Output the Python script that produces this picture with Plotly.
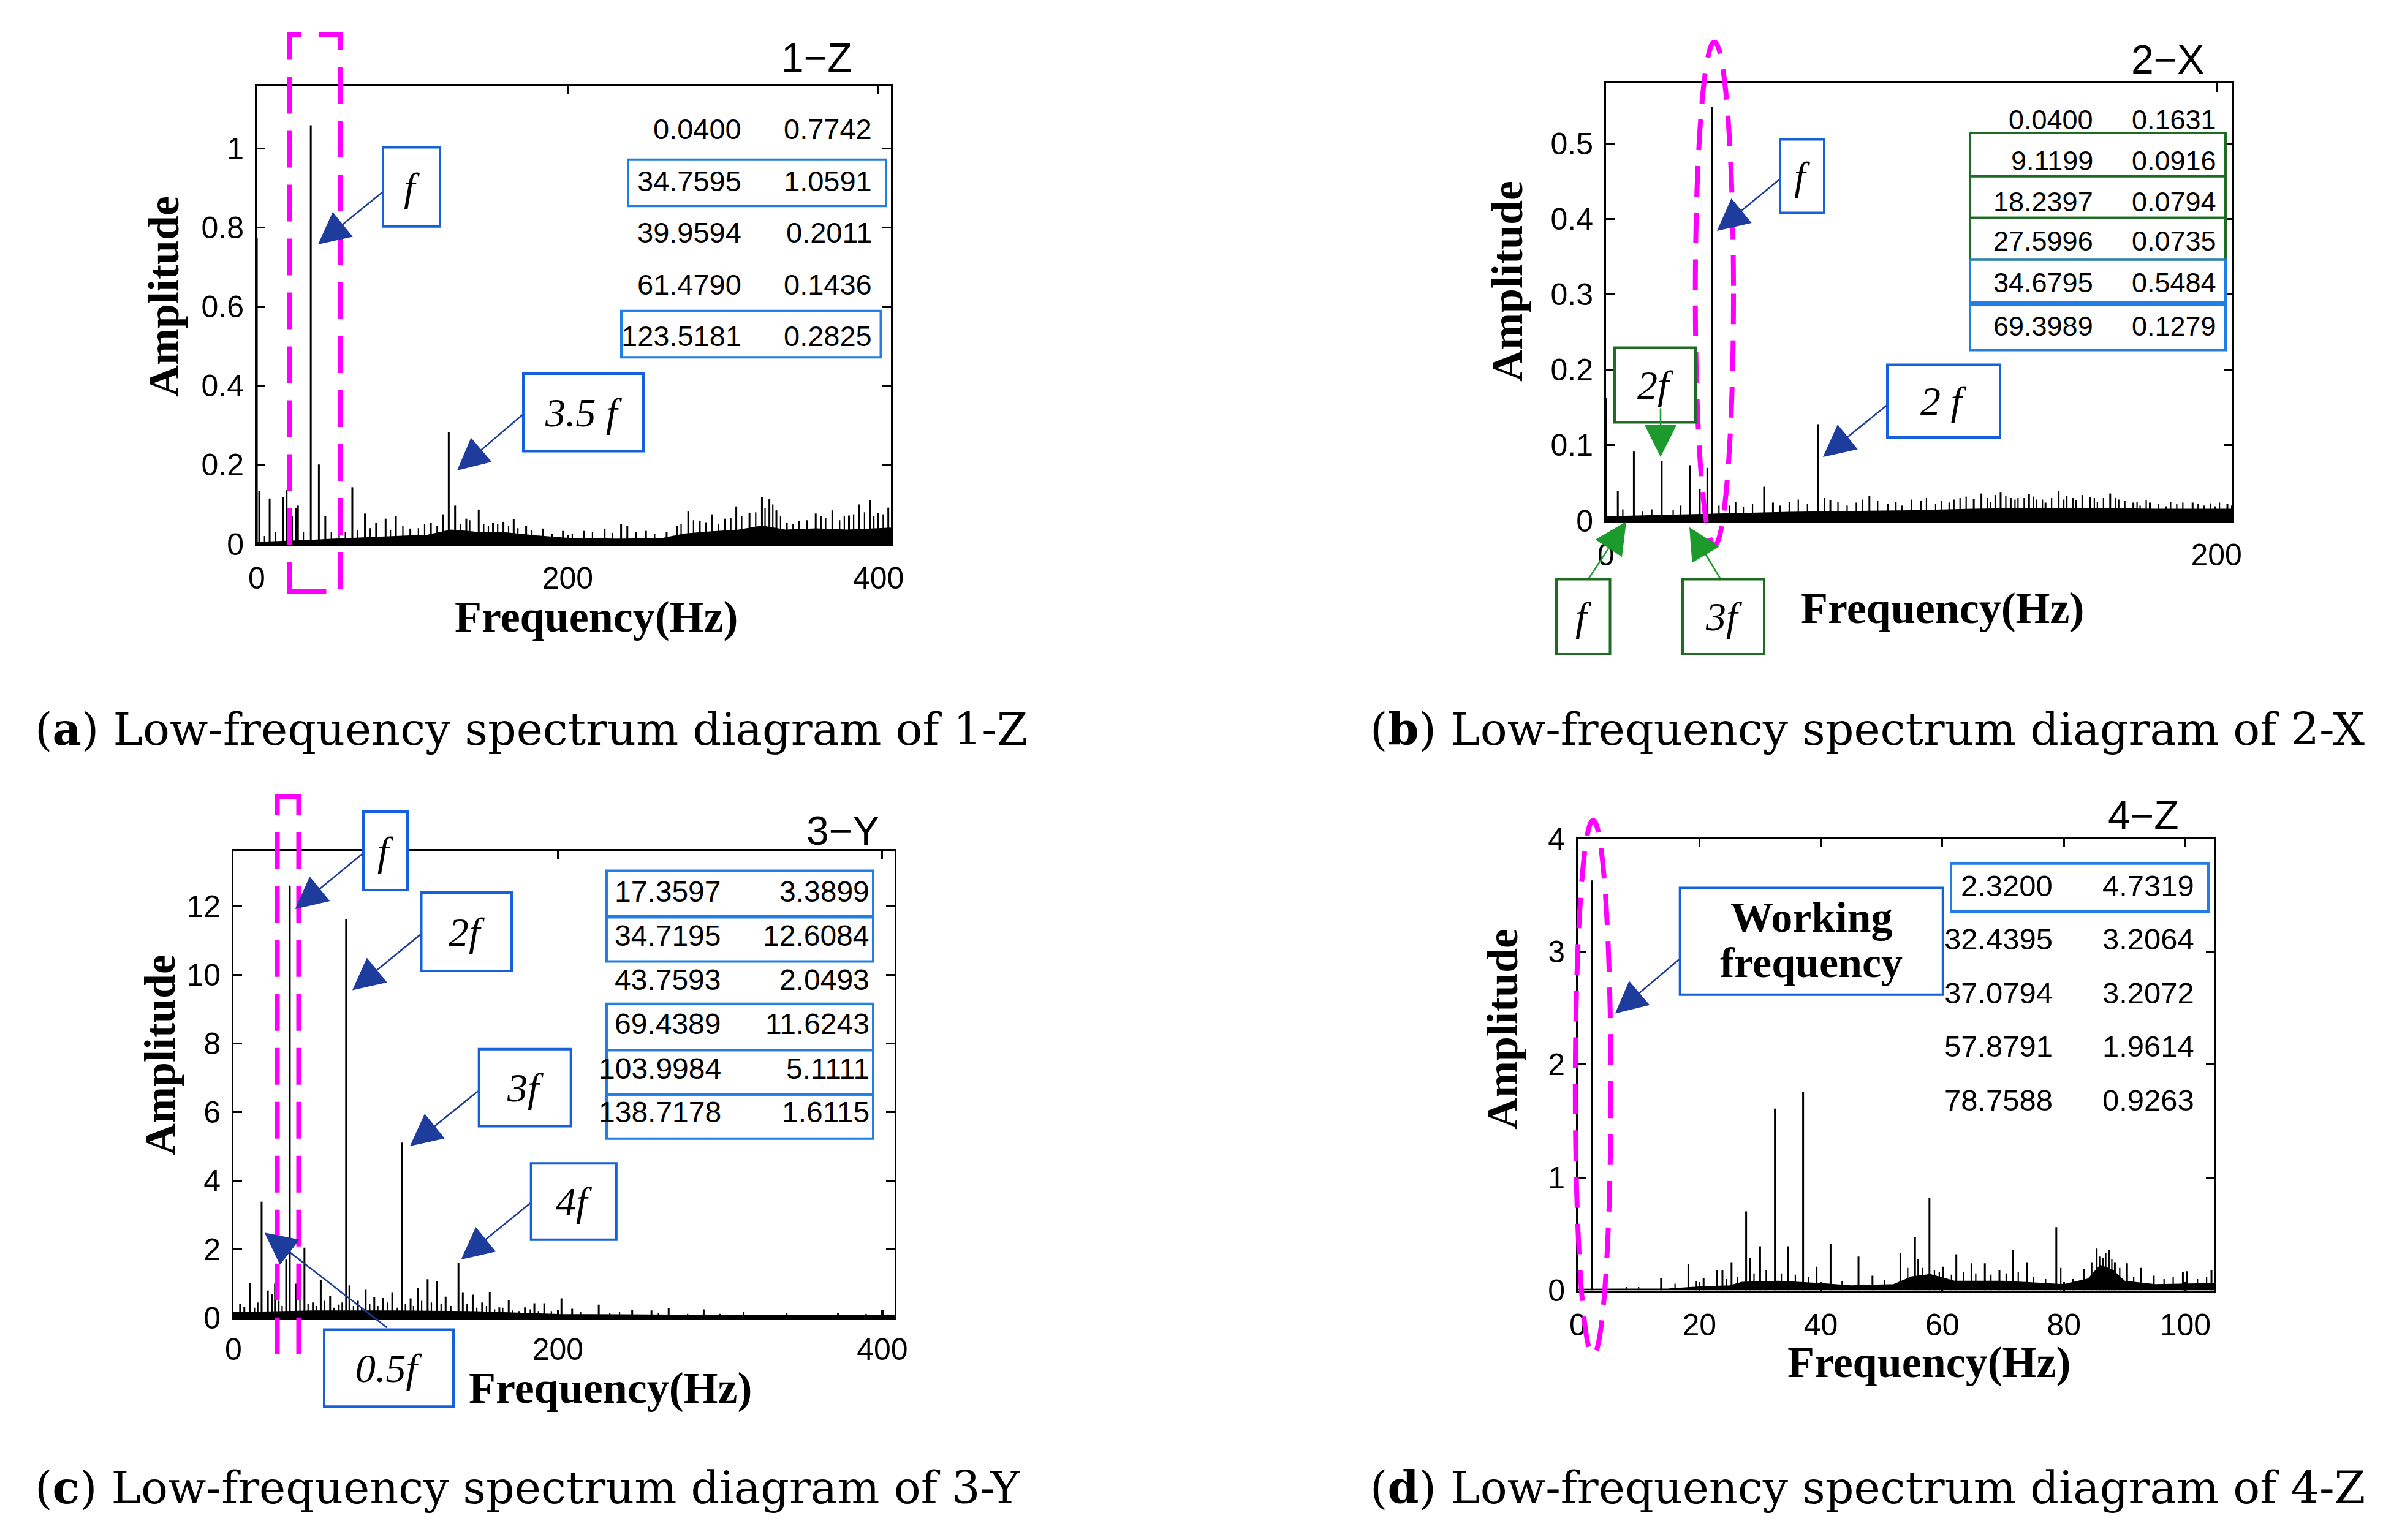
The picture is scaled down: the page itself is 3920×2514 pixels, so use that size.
import plotly.graph_objects as go

W, H = 3920, 2514
PAGE_OFFSET = 8  # default body margin of the html page

# ---------------- data ----------------
# (a) 1-Z : main spectral lines
a_peak_f = [0.04, 1.6, 8.3, 17.0, 19.2, 22.7, 25.2, 26.5, 34.7595, 39.9594, 44.1, 61.479,
            69.6, 76.8, 82.9, 89.5, 98.8, 112, 120, 123.5181, 127.6, 134.8, 142.8, 152,
            158.7, 165.3, 173.3, 184, 197, 210.5, 223.8, 234.4, 238.4, 250.4, 263.7, 270.4,
            277.6, 285, 293, 301, 308.5, 317, 325, 329.8, 334.3, 341, 349, 359.6, 370.3,
            381, 387.6, 394.8, 399.6, 406.3]
a_peak_amp = [0.7742, 0.134, 0.115, 0.118, 0.136, 0.07, 0.09, 0.097, 1.0591, 0.2011, 0.07, 0.1436,
              0.077, 0.054, 0.064, 0.07, 0.039, 0.054, 0.075, 0.2825, 0.097, 0.064, 0.087, 0.054,
              0.056, 0.062, 0.046, 0.039, 0.033, 0.033, 0.039, 0.051, 0.046, 0.033, 0.031, 0.046,
              0.082, 0.059, 0.075, 0.064, 0.095, 0.079, 0.118, 0.113, 0.085, 0.054, 0.059, 0.077,
              0.085, 0.072, 0.1, 0.111, 0.079, 0.092]
# (a) small noise lines
a_minor_f = [5, 12, 30, 48, 53, 57, 65, 73, 86, 94, 104, 108, 116, 131, 137, 146, 149, 155, 162,
             168, 177, 190, 203, 216, 229, 244, 256, 273, 281, 289, 297, 305, 312, 321, 327, 332,
             337, 345, 354, 363, 366, 375, 378, 384, 391, 397, 403]
a_minor_amp = [0.02, 0.03, 0.03, 0.03, 0.035, 0.03, 0.035, 0.04, 0.035, 0.045, 0.04, 0.05, 0.045,
               0.05, 0.06, 0.05, 0.045, 0.05, 0.045, 0.04, 0.035, 0.025, 0.025, 0.03, 0.028, 0.03,
               0.025, 0.05, 0.06, 0.055, 0.05, 0.065, 0.07, 0.08, 0.09, 0.1, 0.07, 0.05, 0.06, 0.07,
               0.065, 0.06, 0.07, 0.075, 0.08, 0.07, 0.075]
a_noise_f = [0, 10, 30, 50, 70, 90, 110, 125, 140, 160, 180, 200, 230, 260, 275, 290, 310, 325, 340, 360, 380, 408]
a_noise_amp = [0.004, 0.005, 0.008, 0.012, 0.015, 0.018, 0.022, 0.035, 0.03, 0.028, 0.02, 0.014,
               0.012, 0.013, 0.025, 0.03, 0.035, 0.045, 0.035, 0.038, 0.035, 0.04]
a_tab_freq = ["0.0400", "34.7595", "39.9594", "61.4790", "123.5181"]
a_tab_amp = ["0.7742", "1.0591", "0.2011", "0.1436", "0.2825"]

# (b) 2-X
b_peak_f = [0.04, 3.86, 9.1199, 18.2397, 27.5996, 30.7, 33.2, 34.6795, 51.8, 54.7,
            60.1, 69.3989, 73.5, 86.3, 92.4, 103.1, 112.5, 120.5, 123.0, 129.3, 132.6,
            138.6, 144.0, 148.3, 154.0, 158.7, 165.2, 172.8, 178.2, 183.5, 192.2, 199.6, 203.6]
b_peak_amp = [0.1631, 0.039, 0.0916, 0.0794, 0.0735, 0.042, 0.07, 0.5484, 0.045, 0.024,
              0.025, 0.1279, 0.027, 0.033, 0.022, 0.026, 0.024, 0.029, 0.036, 0.038, 0.03,
              0.035, 0.024, 0.039, 0.027, 0.031, 0.036, 0.024, 0.024, 0.019, 0.024, 0.019, 0.022]
b_minor_f = [5.5, 12, 15, 22, 24.5, 37, 40.5, 42.5, 45, 48, 57, 63, 66, 71.5, 76, 79, 82, 84, 89,
             95, 97, 100, 105, 108, 110, 114, 116, 118, 125, 126, 127.5, 131, 134, 135, 137, 140,
             141, 143, 146, 150, 151, 153, 156, 160, 161, 163, 167, 168, 170, 174, 175, 177, 181,
             185, 187, 189, 194, 196, 198, 201, 205]
b_minor_amp = [0.015, 0.012, 0.015, 0.014, 0.02, 0.02, 0.02, 0.025, 0.018, 0.022, 0.02, 0.028, 0.022,
               0.03, 0.025, 0.02, 0.024, 0.028, 0.026, 0.025, 0.02, 0.028, 0.03, 0.022, 0.026, 0.028,
               0.03, 0.032, 0.03, 0.025, 0.034, 0.033, 0.028, 0.03, 0.03, 0.032, 0.028, 0.028, 0.03,
               0.028, 0.033, 0.03, 0.034, 0.03, 0.025, 0.03, 0.03, 0.028, 0.026, 0.025, 0.02, 0.027,
               0.022, 0.025, 0.022, 0.024, 0.022, 0.02, 0.023, 0.024, 0.02]
b_noise_f = [0, 20, 40, 60, 80, 100, 120, 140, 160, 180, 205.2]
b_noise_amp = [0.005, 0.007, 0.009, 0.011, 0.012, 0.013, 0.015, 0.016, 0.016, 0.015, 0.015]
b_tab_freq = ["0.0400", "9.1199", "18.2397", "27.5996", "34.6795", "69.3989"]
b_tab_amp = ["0.1631", "0.0916", "0.0794", "0.0735", "0.5484", "0.1279"]

# (c) 3-Y
c_peak_f = [4.1, 6.7, 10.1, 17.3597, 21.2, 23.8, 25.6, 32.5, 34.7195, 38.5, 43.7593, 49.0, 53.8,
            59.6, 64.9, 69.4389, 71.5, 76.7, 81.5, 86.8, 92.1, 97.9, 103.9984, 109.2, 113.7,
            119.7, 125.5, 130.8, 138.7178, 141.4, 147.5, 153.3, 158.0, 163.9, 169.7, 179.7,
            185.5, 191.6, 202.2, 208.8, 225.2, 245.8, 257.7, 268.3, 289.9, 314.5, 341.0, 372.7, 400.4]
c_peak_amp = [0.41, 0.33, 1.01, 3.3899, 0.8, 0.69, 1.0, 1.7, 12.6084, 1.0, 2.0493, 0.45, 1.1,
              0.64, 0.39, 11.6243, 0.95, 0.5, 0.82, 0.6, 0.58, 0.75, 5.1111, 0.57, 0.88,
              1.13, 1.07, 0.62, 1.6115, 0.75, 0.68, 0.45, 0.76, 0.31, 0.51, 0.31,
              0.43, 0.43, 0.57, 0.27, 0.39, 0.24, 0.22, 0.28, 0.25, 0.18, 0.15, 0.15, 0.24]
c_minor_f = [13, 15, 28, 30, 41, 46, 51, 56, 62, 67, 74, 79, 84, 89, 95, 101, 106, 111, 116, 122,
             128, 134, 144, 150, 156, 161, 166, 172, 176, 183, 188, 196, 214, 232, 238, 262, 280, 300, 330, 360, 390]
c_minor_amp = [0.3, 0.45, 0.5, 0.35, 0.6, 0.4, 0.35, 0.5, 0.3, 0.45, 0.35, 0.3, 0.4, 0.35, 0.45, 0.3,
               0.4, 0.35, 0.5, 0.45, 0.4, 0.35, 0.4, 0.3, 0.35, 0.25, 0.3, 0.22, 0.2, 0.25, 0.2, 0.2,
               0.18, 0.15, 0.18, 0.14, 0.12, 0.12, 0.1, 0.1, 0.12]
c_noise_f = [0, 50, 100, 150, 200, 250, 300, 350, 407.6]
c_noise_amp = [0.15, 0.2, 0.2, 0.18, 0.1, 0.08, 0.07, 0.07, 0.07]
c_tab_freq = ["17.3597", "34.7195", "43.7593", "69.4389", "103.9984", "138.7178"]
c_tab_amp = ["3.3899", "12.6084", "2.0493", "11.6243", "5.1111", "1.6115"]

# (d) 4-Z
d_peak_f = [2.32, 4.7, 13.7, 18.2, 20.7, 22.9, 23.8, 25.3, 27.7, 28.3, 30.0, 32.4395, 34.6,
            37.0794, 39.3, 41.6, 46.2, 48.5, 53.1, 55.5, 57.8791, 60.1, 62.3, 64.8, 67.0, 69.4,
            71.6, 73.9, 78.7588, 83.3, 85.4, 86.4, 87.4, 88.4, 90.4, 92.7, 94.8, 99.6, 100.3, 104.3]
d_peak_amp = [3.63, 0.08, 0.11, 0.23, 0.11, 0.18, 0.18, 0.25, 0.70, 0.29, 0.39, 1.61, 0.39,
              1.76, 0.21, 0.41, 0.30, 0.13, 0.33, 0.47, 0.82, 0.21, 0.32, 0.24, 0.24, 0.18,
              0.36, 0.25, 0.56, 0.19, 0.37, 0.29, 0.36, 0.25, 0.24, 0.20, 0.13, 0.16, 0.17, 0.18]
d_minor_f = [8, 10, 16, 19.5, 24.5, 26.3, 29, 31, 33.5, 35.8, 38, 43.5, 50.5, 54.3, 56, 56.7, 58.7,
             59.5, 61.5, 63.5, 65.5, 68, 70.5, 72.5, 75, 77, 79.5, 81.5, 84.6, 85.9, 86.9, 87.9,
             89.2, 91.5, 96.5, 98, 102, 103.5]
d_minor_amp = [0.03, 0.03, 0.06, 0.08, 0.1, 0.12, 0.15, 0.18, 0.15, 0.14, 0.12, 0.08, 0.09, 0.2, 0.28,
               0.2, 0.18, 0.16, 0.14, 0.16, 0.15, 0.14, 0.15, 0.16, 0.12, 0.1, 0.2, 0.1, 0.25, 0.3,
               0.33, 0.28, 0.2, 0.12, 0.1, 0.12, 0.1, 0.12]
d_noise_f = [0, 15, 20, 25, 27, 33, 40, 45, 52, 55, 58, 62, 70, 76, 80, 84, 86, 88, 90, 95, 104.8]
d_noise_amp = [0.01, 0.012, 0.03, 0.04, 0.07, 0.08, 0.06, 0.04, 0.05, 0.12, 0.14, 0.08, 0.08,
               0.06, 0.05, 0.1, 0.22, 0.18, 0.08, 0.05, 0.06]
d_tab_freq = ["2.3200", "32.4395", "37.0794", "57.8791", "78.7588"]
d_tab_amp = ["4.7319", "3.2064", "3.2072", "1.9614", "0.9263"]

panel_titles = ["1\u2212Z", "2\u2212X", "3\u2212Y", "4\u2212Z"]
captions = ["(<b>a</b>) Low-frequency spectrum diagram of 1-Z",
            "(<b>b</b>) Low-frequency spectrum diagram of 2-X",
            "(<b>c</b>) Low-frequency spectrum diagram of 3-Y",
            "(<b>d</b>) Low-frequency spectrum diagram of 4-Z"]

for fl, al in [(a_peak_f, a_peak_amp), (b_peak_f, b_peak_amp), (c_peak_f, c_peak_amp), (d_peak_f, d_peak_amp),
               (a_minor_f, a_minor_amp), (b_minor_f, b_minor_amp), (c_minor_f, c_minor_amp), (d_minor_f, d_minor_amp)]:
    assert len(fl) == len(al)

# ---------------- helpers ----------------
def px(x):
    return (x - PAGE_OFFSET) / W

def py(y):
    return 1 - (y - PAGE_OFFSET) / H

SANS = "Liberation Sans, Arial, sans-serif"
SERIF = "Liberation Serif, Times New Roman, serif"
CAPF = "DejaVu Serif, Liberation Serif, serif"
BLUE_BOX = "#1560dc"
TAB_BLUE = "#1f7fe6"
GREEN = "#1e6b23"
GREEN_ARROW = "#1c9a2c"
ARROW_BLUE = "#1d3c9c"
MAGENTA = "#ff00ff"

fig = go.Figure()

panels = [
    dict(L=419, R=1454, T=139.5, B=888, xmax=408, ymax=1.16, xt=[0, 200, 400], yt=[0, 0.2, 0.4, 0.6, 0.8, 1],
         pf=a_peak_f, pa=a_peak_amp, mf=a_minor_f, ma=a_minor_amp, nf=a_noise_f, na=a_noise_amp, so=10),
    dict(L=2621, R=3643, T=135.5, B=850, xmax=205.2, ymax=0.58, xt=[0, 200], yt=[0, 0.1, 0.2, 0.3, 0.4, 0.5],
         pf=b_peak_f, pa=b_peak_amp, mf=b_minor_f, ma=b_minor_amp, nf=b_noise_f, na=b_noise_amp, so=10),
    dict(L=381, R=1460, T=1389, B=2151.5, xmax=407.6, ymax=13.62, xt=[0, 200, 400], yt=[0, 2, 4, 6, 8, 10, 12],
         pf=c_peak_f, pa=c_peak_amp, mf=c_minor_f, ma=c_minor_amp, nf=c_noise_f, na=c_noise_amp, so=5),
    dict(L=2575, R=3614, T=1369, B=2106.5, xmax=104.8, ymax=4, xt=[0, 20, 40, 60, 80, 100], yt=[0, 1, 2, 3, 4],
         pf=d_peak_f, pa=d_peak_amp, mf=d_minor_f, ma=d_minor_amp, nf=d_noise_f, na=d_noise_amp, so=10),
]

layout_axes = {}
for i, p in enumerate(panels):
    n = "" if i == 0 else str(i + 1)
    xa, ya = "x" + n, "y" + n
    fig.add_trace(go.Scatter(x=p["nf"], y=p["na"], mode="lines", fill="tozeroy",
                             fillcolor="black", line=dict(color="black", width=2),
                             xaxis=xa, yaxis=ya, hoverinfo="skip"))
    for fl, al, wdt in [(p["mf"], p["ma"], 2.2), (p["pf"], p["pa"], 3)]:
        xs, ys = [], []
        for f, a in zip(fl, al):
            xs += [f, f, None]
            ys += [0, a, None]
        fig.add_trace(go.Scatter(x=xs, y=ys, mode="lines", line=dict(color="black", width=wdt),
                                 xaxis=xa, yaxis=ya, hoverinfo="skip"))
    common = dict(showline=True, linecolor="black", linewidth=3, mirror="allticks",
                  ticks="inside", ticklen=14, tickwidth=3, tickcolor="black",
                  showgrid=False, zeroline=False, automargin=False,
                  tickfont=dict(family=SANS, size=50, color="black"))
    layout_axes["xaxis" + n] = dict(common, domain=[px(p["L"]), px(p["R"])], range=[0, p["xmax"]],
                                    tickvals=p["xt"], anchor=ya, ticklabelstandoff=p["so"])
    layout_axes["yaxis" + n] = dict(common, domain=[py(p["B"]), py(p["T"])], range=[0, p["ymax"]],
                                    tickvals=p["yt"], anchor=xa, ticklabelstandoff=8)

fig.update_layout(**layout_axes)

ann = []
shapes = []

def text(x, y, s, size, family=SANS, xanchor="center", color="black", angle=0):
    ann.append(dict(x=px(x), y=py(y), xref="paper", yref="paper", text=s, showarrow=False,
                    xanchor=xanchor, yanchor="middle", textangle=angle,
                    font=dict(family=family, size=size, color=color)))

def rect(x0, y0, x1, y1, color, width=4, dash=None, fill=None):
    line = dict(color=color, width=width)
    if dash:
        line["dash"] = dash
    shapes.append(dict(type="rect", xref="paper", yref="paper", x0=px(x0), x1=px(x1),
                       y0=py(y1), y1=py(y0), line=line, fillcolor=fill or "rgba(0,0,0,0)"))

def ellipse(x0, y0, x1, y1):
    shapes.append(dict(type="circle", xref="paper", yref="paper", x0=px(x0), x1=px(x1),
                       y0=py(y1), y1=py(y0), line=dict(color=MAGENTA, width=8, dash="50px,26px")))

def vline(x, y0, y1):
    shapes.append(dict(type="line", xref="paper", yref="paper", x0=px(x), x1=px(x),
                       y0=py(y1), y1=py(y0), line=dict(color=MAGENTA, width=8, dash="60px,28px")))

def arrow(tail, tip, color=ARROW_BLUE):
    ann.append(dict(x=px(tip[0]), y=py(tip[1]), xref="paper", yref="paper", text="",
                    showarrow=True, ax=tail[0] - tip[0], ay=tail[1] - tip[1],
                    arrowhead=2, arrowsize=4, arrowwidth=2.6, arrowcolor=color, standoff=0))

def label_box(x0, y0, x1, y1, s, color=BLUE_BOX, size=66):
    rect(x0, y0, x1, y1, color, width=4, fill="white")
    text((x0 + x1) / 2, (y0 + y1) / 2, "<i>" + s + "</i>", size, family=SERIF)

# ----- common texts -----
amp_pos = [(267, 484), (2460, 459), (261, 1722), (2452, 1680)]
freq_pos = [(973, 1007), (3170, 993), (996, 2266), (3148, 2224)]
title_pos = [(1333, 94), (3537, 97), (1375, 1356), (3498, 1331)]
cap_pos = [(55, 1190), (2234, 1190), (55, 2428), (2234, 2428)]
for i in range(4):
    text(*amp_pos[i], "<b>Amplitude</b>", 72, family=SERIF, angle=-90)
    text(*freq_pos[i], "<b>Frequency(Hz)</b>", 72, family=SERIF)
    text(*title_pos[i], panel_titles[i], 66)
    text(cap_pos[i][0], cap_pos[i][1], captions[i], 73, family=CAPF, xanchor="left")

# ----- (a) -----
rect(472.5, 57, 556, 965.4, MAGENTA, width=8, dash="60px,28px")
a_rows = [210.3, 295.8, 379.9, 464.0, 548.2]
rect(1025, 260.8, 1446, 336.2, TAB_BLUE)
rect(1014, 507.8, 1437.5, 583.2, TAB_BLUE)
for r, fs, am in zip(a_rows, a_tab_freq, a_tab_amp):
    text(1212, r, fs, 47, xanchor="right")
    text(1425, r, am, 47, xanchor="right")
label_box(625, 240.6, 718, 369.8, "f")
arrow((625, 313), (519, 399))
label_box(854, 610, 1050, 736.6, "3.5 f")
arrow((854, 676), (746, 768))

# ----- (b) -----
ellipse(2766.7, 68.8, 2829, 890.4)
b_rows = [195.7, 262.7, 329.7, 393.2, 461.6, 532.1]
rect(3215, 216.9, 3632, 287.4, GREEN)
rect(3215, 287.4, 3632, 355.8, GREEN)
rect(3215, 355.8, 3632, 423.5, GREEN)
rect(3215, 423.5, 3632, 493.3, TAB_BLUE)
rect(3215, 496.9, 3632, 571.6, TAB_BLUE)
for r, fs, am in zip(b_rows, b_tab_freq, b_tab_amp):
    text(3418, r, fs, 45, xanchor="right")
    text(3619, r, am, 45, xanchor="right")
label_box(2905, 227.5, 2977, 347.4, "f")
arrow((2905, 292), (2802, 377))
label_box(3080, 595.6, 3264, 714, "2 f")
arrow((3080, 661), (2975, 746))
label_box(2635, 567.4, 2767, 689.4, "2f", color=GREEN)
arrow((2710, 665), (2710, 746), color=GREEN_ARROW)
label_box(2540, 945.4, 2627.5, 1068, "f", color=GREEN)
arrow((2592, 945.4), (2654, 851.6), color=GREEN_ARROW)
label_box(2746, 945.4, 2879, 1068, "3f", color=GREEN)
arrow((2808, 945.4), (2757, 860.8), color=GREEN_ARROW)

# ----- (c) -----
vline(452.5, 1298.3, 2210.8)
vline(487.5, 1298.3, 2210.8)
shapes.append(dict(type="line", xref="paper", yref="paper", x0=px(449), x1=px(491),
                   y0=py(1300), y1=py(1300), line=dict(color=MAGENTA, width=8)))
c_rows = [1455, 1527.7, 1599.7, 1671.7, 1744.4, 1815]
for y0, y1 in [(1421.4, 1495.4), (1497.5, 1569.5), (1638.8, 1714.2), (1714.2, 1786.8), (1786.8, 1858.8)]:
    rect(990, y0, 1425, y1, TAB_BLUE)
for r, fs, am in zip(c_rows, c_tab_freq, c_tab_amp):
    text(1179, r, fs, 48, xanchor="right")
    text(1421, r, am, 48, xanchor="right")
label_box(593, 1325, 665, 1453, "f")
arrow((593, 1392.5), (481.7, 1484))
label_box(687.5, 1457, 835, 1585, "2f")
arrow((687.5, 1524.4), (575, 1616.6))
label_box(781.7, 1712.8, 931.7, 1838.6, "3f")
arrow((781.7, 1780), (669, 1871))
label_box(866.7, 1899.2, 1005.8, 2023.7, "4f")
arrow((866.7, 1963), (752.5, 2056))
label_box(529, 2170.4, 740, 2296.2, "0.5f")
arrow((633, 2168.4), (431.7, 2012.3))

# ----- (d) -----
ellipse(2570.8, 1339.2, 2629, 2212.3)
d_rows = [1446.3, 1532.8, 1620.6, 1707.8, 1795.6]
rect(3184, 1409.7, 3604, 1488, TAB_BLUE)
for r, fs, am in zip(d_rows, d_tab_freq, d_tab_amp):
    text(3352, r, fs, 49, xanchor="right")
    text(3583, r, am, 49, xanchor="right")
rect(2741.7, 1449.5, 3170.8, 1623.8, BLUE_BOX, width=4, fill="white")
text(2956, 1497.6, "<b>Working</b>", 70, family=SERIF)
text(2956, 1571.3, "<b>frequency</b>", 70, family=SERIF)
arrow((2741.7, 1564.9), (2635.8, 1654.6))

fig.update_layout(width=W, height=H, margin=dict(l=0, r=0, t=0, b=0, autoexpand=False),
                  paper_bgcolor="white", plot_bgcolor="white", showlegend=False,
                  annotations=ann, shapes=shapes)

fig.write_html("out.html")
